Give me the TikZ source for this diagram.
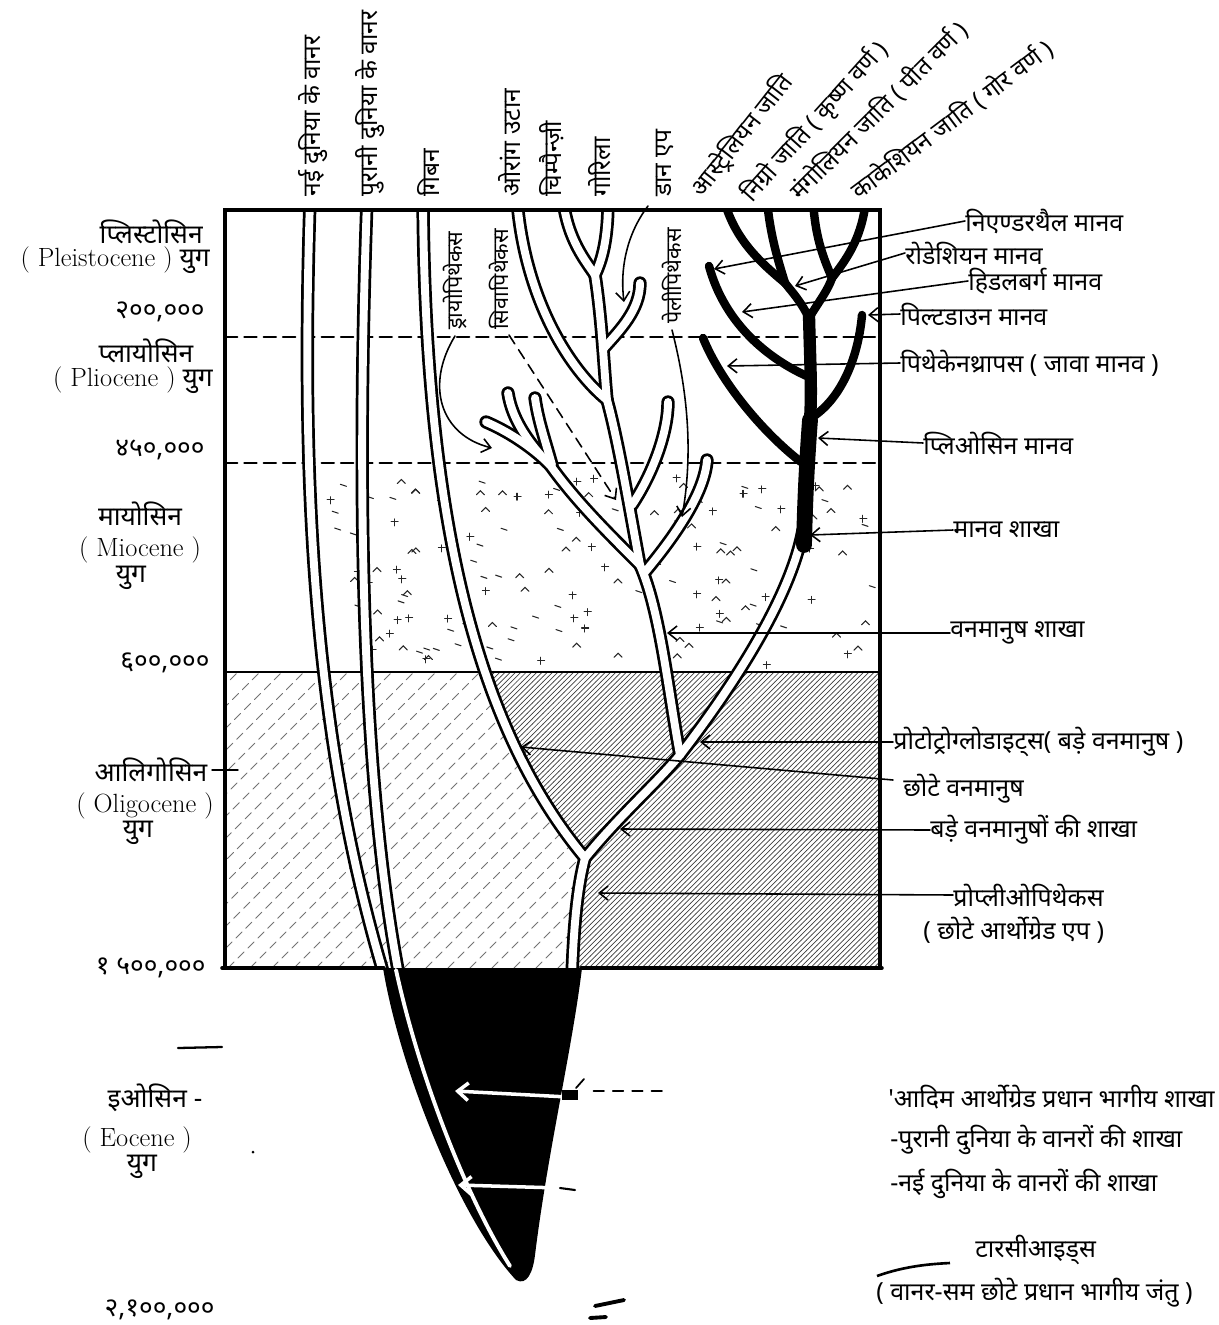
\documentclass[tikz,border=0pt]{standalone}
\usepackage{fontspec}
\newfontfamily\dev[Script=Devanagari]{Noto Sans}
\usetikzlibrary{arrows.meta,patterns}
\newcommand\apeTubes{%
  \draw[tb] (310,200) .. controls (302,450) and (308,720) .. (384,975);
  \draw[tb] (367,200) .. controls (358,450) and (358,760) .. (399,975);
  \draw[tb] (423,200) .. controls (425,500) and (470,720) .. (585,858);
  \draw[tb] (572,975) .. controls (574,920) and (578,885) .. (585,858);
  \draw[tb] (585,858) .. controls (620,815) and (655,785) .. (680,755);
  \draw[tb] (680,755) .. controls (730,690) and (790,600) .. (803,530);
  \draw[tb] (680,755) .. controls (668,690) and (660,610) .. (640,565);
  \draw[tb] (640,565) .. controls (605,530) and (575,500) .. (550,465);
  \draw[tb] (550,465) .. controls (530,445) and (505,430) .. (486,422);
  \draw[tb] (550,465) .. controls (530,445) and (512,420) .. (508,393);
  \draw[tb] (552,465) .. controls (545,440) and (538,420) .. (535,398);
  \draw[tb] (640,565) .. controls (628,500) and (618,440) .. (607,400);
  \draw[tb] (607,400) .. controls (604,370) and (602,320) .. (595,275);
  \draw[tb] (517,200) .. controls (525,300) and (570,370) .. (607,400);
  \draw[tb] (563,200) .. controls (568,240) and (585,260) .. (595,275);
  \draw[tb] (608,200) .. controls (608,240) and (602,260) .. (595,275);
  \draw[tb] (640,283) .. controls (640,310) and (620,330) .. (604,348);
  \draw[tb] (645,572) .. controls (680,530) and (705,490) .. (707,460);
  \draw[tb] (632,505) .. controls (655,470) and (668,430) .. (668,402);
}
\newcommand\humanTree{%
  \draw[line width=9pt] (804,545) .. controls (805,500) and (807,460) .. (810,420);
  \draw[line width=7pt] (810,420) .. controls (812,390) and (810,360) .. (809,315);
  \draw[hb] (801,462) .. controls (760,430) and (720,380) .. (703,338);
  \draw[hb] (811,418) .. controls (840,400) and (858,360) .. (862,315);
  \draw[hb] (809,377) .. controls (770,360) and (725,325) .. (709,266);
  \draw[hb] (809,318) .. controls (800,300) and (792,292) .. (785,283);
  \draw[hb] (785,283) .. controls (760,262) and (735,240) .. (724,200);
  \draw[hb] (785,283) .. controls (778,260) and (770,235) .. (767,200);
  \draw[hb] (809,318) .. controls (820,300) and (828,290) .. (832,278);
  \draw[hb] (832,278) .. controls (822,255) and (815,235) .. (813,200);
  \draw[hb] (832,278) .. controls (850,255) and (862,235) .. (866,200);
}
\begin{document}
\begin{tikzpicture}[x=0.02cm,y=-0.02cm,line cap=round,
  lab/.style={font=\dev\fontsize{14.2}{16}\selectfont, inner sep=0pt},
  rlab/.style={lab, anchor=west},
  era/.style={font=\dev\fontsize{15}{17}\selectfont, inner sep=0pt},
  num/.style={font=\dev\fontsize{15}{17}\selectfont, inner sep=0pt, anchor=east},
  vlab/.style={font=\dev\fontsize{14}{16}\selectfont, inner sep=0pt, rotate=90, anchor=west},
  ilab/.style={font=\dev\fontsize{12.3}{14}\selectfont, inner sep=0pt, rotate=90, anchor=west},
  slab/.style={font=\dev\fontsize{13.8}{16}\selectfont, inner sep=0pt, anchor=south west},
  ar/.style={line width=0.9pt, -{Straight Barb[length=5pt,width=8pt]}},
  war/.style={white, line width=2pt, -{Straight Barb[length=6pt,width=10pt]}},
  spk/.style={line width=0.6pt, black!85},
  eraln/.style={line width=1.3pt, dash pattern=on 7pt off 4pt},
  hb/.style={line width=4.8pt}]
\useasboundingbox (0,0) rectangle (1219,1325);
\fill[white] (0,0) rectangle (1219,1325);

% Miocene speckles
\pgfmathsetseed{7}
\foreach \i in {1,...,150}{
  \pgfmathsetmacro\sx{330+540*rnd}
  \pgfmathsetmacro\sy{475+190*rnd}
  \pgfmathrandominteger{\st}{1}{3}
  \ifcase\st\or
    \draw[spk] (\sx,\sy) -- ++(4,-4) -- ++(4,4);
  \or
    \draw[spk] (\sx-3,\sy) -- ++(7,0) (\sx,\sy-3) -- ++(0,7);
  \or
    \draw[spk] (\sx,\sy) -- ++(6,2);
  \fi
}

% Oligocene hatching
\fill[pattern=north east lines, pattern color=black!75] (484,672) .. controls (510,760) and (545,815) .. (585,858) -- (572,968) -- (880,968) -- (880,672) -- cycle;
\begin{scope}
  \clip (225,672) -- (484,672) .. controls (510,760) and (545,815) .. (585,858) -- (572,968) -- (225,968) -- cycle;
  \foreach \k in {0,22,...,700}
    \draw[black!55, line width=0.45pt, dash pattern=on 5pt off 3pt] (\k-80,968) -- ++(300,-300);
\end{scope}

% era boundaries
\draw[eraln] (225,337) -- (880,337);
\draw[eraln] (225,463) -- (880,463);
\draw[line width=0.9pt] (225,672) -- (880,672);

% tree
\begin{scope}
  \clip (225,210) rectangle (880,968);
  \begin{scope}[tb/.style={line width=7.6pt, black}] \apeTubes \end{scope}
  \begin{scope}[tb/.style={line width=4.5pt, white}] \apeTubes \end{scope}
  \humanTree
\end{scope}

% black cone
\fill (383,968) .. controls (400,1070) and (460,1220) .. (516,1280) .. controls (527,1286) and (533,1272) .. (535,1255) .. controls (548,1150) and (572,1050) .. (582,968) -- cycle;
\draw[white, line width=2.2pt] (396,970) .. controls (420,1080) and (468,1200) .. (510,1266);
\coordinate (w1s) at (568,1097);
\coordinate (w1t) at (455,1091);
\draw[war] (w1s) -- (w1t);
\coordinate (w2s) at (560,1188);
\coordinate (w2t) at (458,1185);
\draw[war] (w2s) -- (w2t);
\draw[line width=1.2pt] (w2s) -- (575,1190);
\coordinate (d1a) at (662,1091);
\coordinate (d1b) at (585,1091);
\draw[line width=0.9pt, dash pattern=on 6pt off 5pt] (d1a) -- (d1b);
\fill (562,1090) rectangle (578,1100);
\draw[line width=1pt] (576,1088) -- (584,1079);

% box
\draw[line width=2pt] (225,968) -- (225,210) -- (880,210) -- (880,968);
\draw[line width=2pt] (222,968) -- (384,968);
\draw[line width=2pt] (581,968) -- (882,968);
\draw[line width=0.8pt] (212,770) -- (238,770);

% top labels
\node[vlab] (nwm) at (313,197) {नई दुनिया के वानर};
\node[vlab] (owm) at (370,197) {पुरानी दुनिया के वानर};
\node[vlab] (gib) at (428,197) {गिबन};
\node[vlab] (ora) at (510,197) {ओरांग उटान};
\node[vlab] (chi) at (552,197) {चिम्पैन्ज़ी};
\node[vlab] (gor) at (600,197) {गोरिला};
\node[vlab] (dawn) at (665,197) {डान एप};
\coordinate (dawn-t) at (624,302);
\draw[ar] (648,206) .. controls (626,235) and (620,270) .. (dawn-t);

\node[slab, rotate=52] (aus) at (707,202) {आस्ट्रेलियन जाति};
\node[slab, rotate=48] (neg) at (757,208) {निग्रो जाति ( कृष्ण वर्ण )};
\node[slab, rotate=45] (mon) at (803,205) {मंगोलियन जाति ( पीत वर्ण )};
\node[slab, rotate=37] (cau) at (862,204) {काकेशियन जाति ( गोर वर्ण )};

% inner labels
\node[ilab] (dryo) at (455,330) {ड्रायोपिथेकस};
\node[ilab] (siva) at (499,330) {सिवापिथेकस};
\node[ilab] (peli) at (672,324) {पेलीपिथेकस};
\coordinate (dryo-t) at (492,448);
\coordinate (siva-t) at (616,500);
\coordinate (peli-t) at (682,517);
\draw[ar] (dryo.west) ++(0,6) .. controls (425,385) and (440,435) .. (dryo-t);
\draw[ar, dash pattern=on 6pt off 4pt] (siva.west) ++(10,5) -- (siva-t);
\draw[ar] (peli.west) ++(0,6) .. controls (690,400) and (692,460) .. (peli-t);

% left labels
\node[era, anchor=east] (ple1) at (203,232) {प्लिस्टोसिन};
\node[era, anchor=east] (ple2) at (210,260) {{\rmfamily ( Pleistocene )} युग};
\node[num] (n1) at (205,312) {२००,०००};
\node[era] (pli1) at (146,351) {प्लायोसिन};
\node[era, anchor=east] (pli2) at (213,380) {{\rmfamily ( Pliocene )} युग};
\node[num] (n2) at (205,450) {४५०,०००};
\node[era] (mio1) at (140,514) {मायोसिन};
\node[era] (mio2) at (140,550) {{\rmfamily ( Miocene )}};
\node[era] (mio3) at (131,578) {युग};
\node[num] (n3) at (210,663) {६००,०००};
\node[era] (oli1) at (151,770) {आलिगोसिन};
\node[era] (oli2) at (145,806) {{\rmfamily ( Oligocene )}};
\node[era] (oli3) at (138,833) {युग};
\node[num] (n4) at (206,968) {१ ५००,०००};
\draw[line width=1.3pt] (178,1048) -- (222,1047);
\node[era] (eo1) at (155,1098) {इओसिन -};
\node[era] (eo2) at (137,1140) {{\rmfamily ( Eocene )}};
\node[era] (eo3) at (142,1167) {युग};
\fill (253,1152) circle (1.5);
\node[num] (n5) at (215,1310) {२,१००,०००};

% right labels
\node[rlab] (nean) at (965,221) {निएण्डरथैल मानव};
\coordinate (nean-t) at (714,269);
\draw[ar] (nean.west) -- (nean-t);
\node[rlab] (rhod) at (905,253) {रोडेशियन मानव};
\coordinate (rhod-t) at (795,286);
\draw[ar] (rhod.west) -- (rhod-t);
\node[rlab] (heid) at (968,281) {हिडलबर्ग मानव};
\coordinate (heid-t) at (742,312);
\draw[ar] (heid.west) -- (heid-t);
\node[rlab] (pilt) at (900,314) {पिल्टडाउन मानव};
\coordinate (pilt-t) at (868,315);
\draw[ar] (pilt.west) -- (pilt-t);
\node[rlab] (java) at (900,363) {पिथेकेनथ्रापस ( जावा मानव )};
\coordinate (java-t) at (727,366);
\draw[ar] (java.west) -- (java-t);
\node[rlab] (plio) at (923,443) {प्लिओसिन मानव};
\coordinate (plio-t) at (818,438);
\draw[ar] (plio.west) -- (plio-t);
\node[rlab] (mansh) at (953,530) {मानव शाखा};
\coordinate (mansh-t) at (810,535);
\draw[ar] (mansh.west) -- (mansh-t);
\node[rlab] (vansh) at (950,633) {वनमानुष शाखा};
\coordinate (vansh-t) at (667,633);
\draw[ar] (vansh.west) -- (vansh-t);
\node[rlab] (proto) at (893,742) {प्रोटोट्रोग्लोडाइट्स( बड़े वनमानुष )};
\coordinate (proto-t) at (700,742);
\draw[ar] (proto.west) -- (proto-t);
\node[rlab] (chhote) at (903,789) {छोटे वनमानुष};
\coordinate (chhote-t) at (521,747);
\draw[ar] (chhote.west) ++(-10,-9) -- (chhote-t);
\node[rlab] (bade) at (930,830) {बड़े वनमानुषों की शाखा};
\coordinate (bade-t) at (620,829);
\draw[ar] (bade.west) -- (bade-t);
\node[rlab] (propl) at (953,895) {प्रोप्लीओपिथेकस};
\coordinate (propl-t) at (598,893);
\draw[ar] (propl.west) -- (propl-t);
\node[rlab] (propl2) at (923,930) {( छोटे आर्थोग्रेड एप )};

\node[rlab] (adim) at (888,1097) {'आदिम आर्थोग्रेड प्रधान भागीय शाखा};
\node[rlab] (pur) at (890,1140) {-पुरानी दुनिया के वानरों की शाखा};
\node[rlab] (nai) at (890,1184) {-नई दुनिया के वानरों की शाखा};
\node[rlab] (tars) at (975,1250) {टारसीआइड्स};
\coordinate (tars-t) at (877,1276);
\draw[line width=1.5pt, line cap=butt] (tars-t) .. controls (905,1266) and (930,1264) .. (950,1263);
\node[rlab] (tars2) at (876,1293) {( वानर-सम छोटे प्रधान भागीय जंतु )};

\draw[line width=2.2pt] (595,1306) -- (624,1300);
\draw[line width=2.2pt] (590,1318) -- (606,1317);
\end{tikzpicture}
\end{document}
